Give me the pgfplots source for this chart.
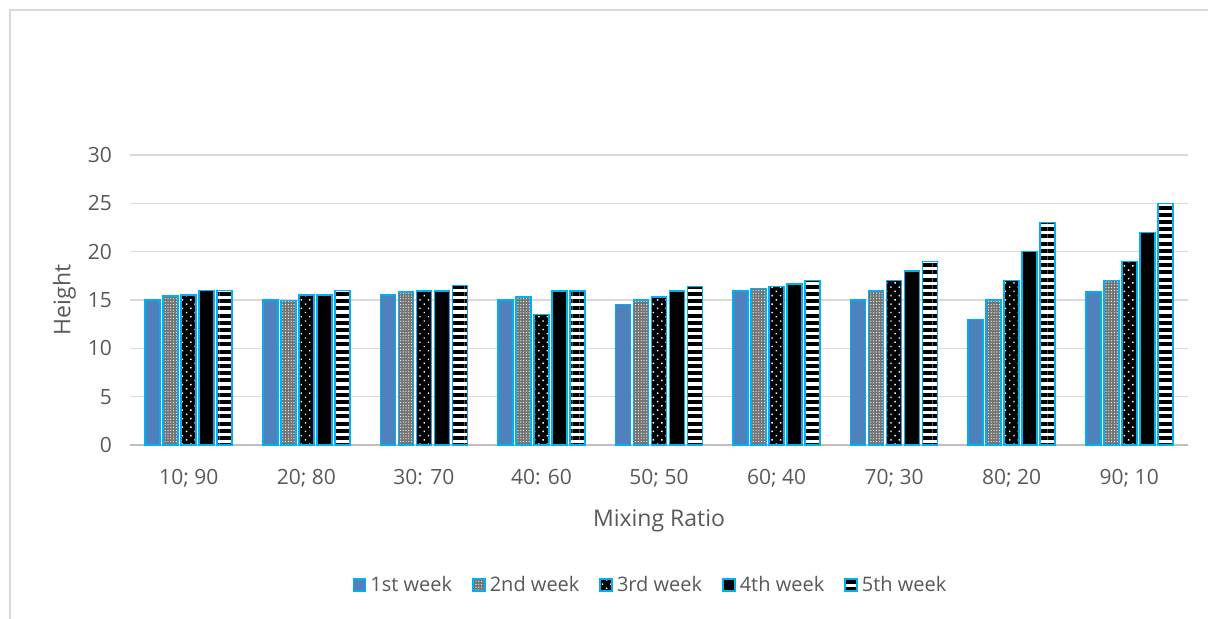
\documentclass[border=0pt]{standalone}
\usepackage{pgfplots}
\pgfplotsset{compat=1.18}
\usepackage{pgfplotstable}
\usepackage{fontspec}
\setmainfont{Open Sans}
\usetikzlibrary{patterns,patterns.meta}
\definecolor{bluef}{HTML}{4F81BD}
\definecolor{cyanb}{HTML}{00B0F0}
\definecolor{txt}{HTML}{595959}
\definecolor{gridc}{HTML}{D9D9D9}
\definecolor{axc}{HTML}{BFBFBF}
\pgfplotstableread{
x w1 w2 w3 w4 w5
0 15 15.4 15.5 16 16
1 15 14.95 15.5 15.5 16
2 15.5 15.8 15.95 15.95 16.5
3 15 15.3 13.5 15.95 15.95
4 14.55 15 15.3 15.95 16.4
5 15.95 16.2 16.4 16.65 17
6 15 15.95 17 18 19
7 13 15 17 20 23
8 15.8 17 19 22 25
}\datatable
\begin{document}
\begin{tikzpicture}
\useasboundingbox (0pt,0pt) rectangle (604pt,309pt);
\draw[color=gridc, line width=1pt] (5pt,-2pt) -- (5pt,304pt) -- (606pt,304pt);
\begin{axis}[
  at={(65pt,86.5pt)}, anchor=south west,
  scale only axis, width=529pt, height=145pt,
  xmin=-0.5, xmax=8.5, ymin=0, ymax=30,
  xtick={0,...,8},
  xticklabels={{10; 90},{20; 80},{30: 70},{40: 60},{50; 50},{60; 40},{70; 30},{80; 20},{90; 10}},
  ytick={0,5,...,30},
  /pgf/number format/assume math mode=true,
  major tick length=0pt,
  axis lines*=left,
  y axis line style={draw=none},
  x axis line style={draw=axc, line width=0.8pt},
  ymajorgrids, grid style={draw=gridc, line width=0.8pt},
  tick label style={font=\fontsize{10.5}{12}\selectfont, text=txt},
  yticklabel style={xshift=-5.5pt},
  xticklabel style={yshift=-8.5pt},
  label style={font=\fontsize{11.5}{13}\selectfont, text=txt},
  xlabel={Mixing Ratio},
  ylabel={Height},
  xlabel style={at={(axis description cs:0.5,-0.26)}, anchor=center},
  ylabel style={at={(axis description cs:-0.062,0.5)}, anchor=center},
  legend columns=5,
  legend style={draw=none, at={(axis description cs:0.493,-0.483)}, anchor=center,
    font=\fontsize{10}{12}\selectfont, text=txt, /tikz/every even column/.append style={column sep=8pt}},
  legend image code/.code={\draw[#1] (0pt,-3pt) rectangle (6pt,3pt);},
  bar width=7.5pt,
]
\addplot[ybar, bar shift=-18pt, draw=cyanb, line width=0.8pt, fill=bluef] table[x=x,y=w1]{\datatable};
\addplot[ybar, bar shift=-9pt, draw=cyanb, line width=0.8pt, fill=black!55,
  postaction={pattern={Dots[distance=1.4pt, radius=0.3pt]}, pattern color=white}] table[x=x,y=w2]{\datatable};
\addplot[ybar, bar shift=0pt, draw=cyanb, line width=0.8pt, fill=black,
  postaction={pattern={Dots[distance=3pt, radius=0.5pt, angle=45]}, pattern color=white}] table[x=x,y=w3]{\datatable};
\addplot[ybar, bar shift=9pt, draw=cyanb, line width=0.8pt, fill=black] table[x=x,y=w4]{\datatable};
\addplot[ybar, bar shift=18pt, draw=cyanb, line width=0.8pt, fill=white,
  postaction={pattern={Lines[angle=0, distance=3.6pt, line width=2pt]}, pattern color=black}] table[x=x,y=w5]{\datatable};
\legend{1st week, 2nd week, 3rd week, 4th week, 5th week}
\end{axis}
\end{tikzpicture}
\end{document}
